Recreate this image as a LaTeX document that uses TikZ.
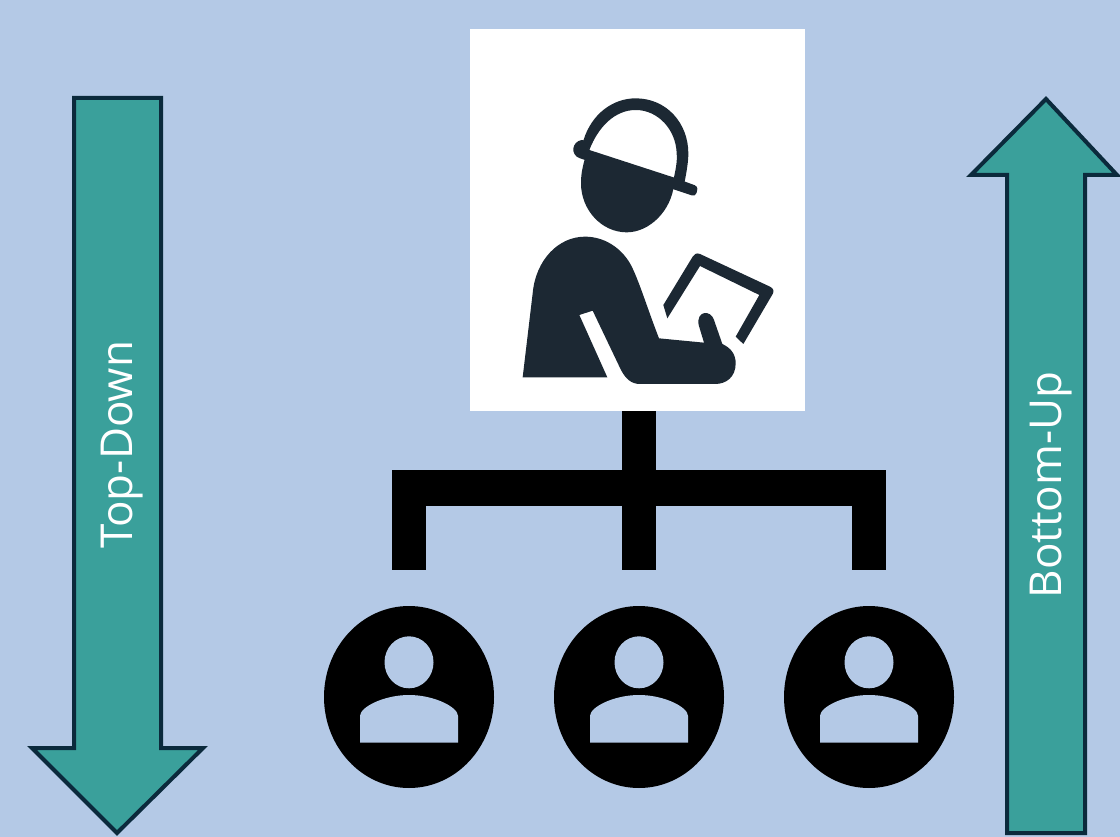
\documentclass[tikz,border=0pt]{standalone}
\usepackage{fontspec}
\usetikzlibrary{shapes.geometric}
\setmainfont{Open Sans}
\definecolor{bgblue}{HTML}{B4C9E6}
\definecolor{teal1}{HTML}{3AA09B}
\definecolor{navy1}{HTML}{0B2A3C}
\definecolor{man}{HTML}{1C2833}
\tikzset{
  px/.style={x=0.75pt,y=-0.75pt},
  bigarrow/.style={fill=teal1,draw=navy1,line width=3pt,miter limit=10},
  arrowlabel/.style={text=white,font=\fontsize{33}{38}\selectfont,rotate=90,inner sep=0pt},
  bar/.style={line width=25.5pt,black},
  person/.style={fill=black,draw=none},
  cutout/.style={fill=bgblue,draw=none},
}
\begin{document}
\begin{tikzpicture}[px]
\useasboundingbox (0,0) rectangle (1120,837);
\fill[bgblue] (0,0) rectangle (1120,837);
% big arrows
\draw[bigarrow] (74,98) -- (161,98) -- (161,748) -- (203,748) -- (117,833) -- (32,748) -- (74,748) -- cycle;
\draw[bigarrow] (1007,833) -- (1085,833) -- (1085,175) -- (1117,175) -- (1046,99) -- (971,175) -- (1007,175) -- cycle;
\node[arrowlabel] (topdown) at (122,445) {Top-Down};
\node[arrowlabel] (bottomup) at (1051,485) {Bottom-Up};
% boss
\node[fill=white,draw=none,minimum width=251.25pt,minimum height=286.5pt,inner sep=0pt] (boss) at (637.5,220) {};
% tree
\coordinate (busL) at (392,488);
\coordinate (busR) at (886,488);
\coordinate (legLt) at (409,470);
\coordinate (legRt) at (869,470);
\coordinate (legL) at (409,570);
\coordinate (legM) at (639,570);
\coordinate (legR) at (869,570);
\draw[bar] (boss.south -| legM) -- (legM);
\draw[bar,line width=27pt] (busL) -- (busR);
\draw[bar] (legLt) -- (legL);
\draw[bar] (legRt) -- (legR);
% persons
\foreach \n/\cx in {a/409,b/639,c/869}{
  \node[person,ellipse,minimum width=127.5pt,minimum height=136.5pt,inner sep=0pt] (p\n) at (\cx,697) {};
  \fill[cutout] (\cx,662.3) ellipse [x radius=24.5,y radius=26];
  \fill[cutout] (\cx-49,742.7) -- (\cx-49,716) .. controls (\cx-49,707) and (\cx-25,695) .. (\cx,695)
     .. controls (\cx+25,695) and (\cx+49,707) .. (\cx+49,716) -- (\cx+49,742.7) -- cycle;
}
% man icon: zoom coordinates
\begin{scope}[shift={(470,30)},x=0.25pt,y=-0.25pt]
  % hat ring
  \fill[man] (340,332) .. controls (365,250) and (430,205) .. (497,205)
     .. controls (590,205) and (655,280) .. (655,370)
     .. controls (655,395) and (650,425) .. (642,465) -- (608,460)
     .. controls (618,415) and (622,395) .. (620,370)
     .. controls (618,300) and (565,240) .. (497,240)
     .. controls (435,240) and (385,290) .. (358,360) -- cycle;
  % brim
  \fill[man] (335,330) .. controls (345,330) and (350,335) .. (358,360)
     -- (610,442) -- (675,466) .. controls (685,472) and (682,480) .. (680,488)
     .. controls (678,496) and (672,498) .. (665,496) -- (330,385)
     .. controls (300,375) and (305,335) .. (335,330) -- cycle;
  % face
  \fill[man] (345,385) -- (612,462)
     .. controls (605,540) and (540,607) .. (470,607)
     .. controls (395,607) and (333,540) .. (333,460)
     .. controls (333,430) and (338,410) .. (345,385) -- cycle;
  % body
  \fill[man] (158,1042) -- (188,790)
     .. controls (197,690) and (265,620) .. (345,620)
     .. controls (400,620) and (450,650) .. (480,700)
     .. controls (505,745) and (530,830) .. (567,925)
     -- (702,938) -- (686,885)
     .. controls (678,842) and (722,838) .. (732,870)
     -- (757,942)
     .. controls (785,955) and (797,975) .. (797,1000)
     .. controls (797,1040) and (770,1062) .. (735,1062)
     -- (510,1062)
     .. controls (485,1062) and (468,1048) .. (453,1020)
     -- (368,842) -- (328,855) -- (412,1042) -- cycle;
  % clipboard
  \fill[man] (580,825) -- (668,680) .. controls (672,672) and (680,668) .. (690,672)
     -- (900,770) .. controls (910,775) and (913,783) .. (908,792)
     -- (820,942) -- (797,920) -- (868,795) -- (690,708) -- (592,865) -- cycle;
\end{scope}
\end{tikzpicture}
\end{document}
